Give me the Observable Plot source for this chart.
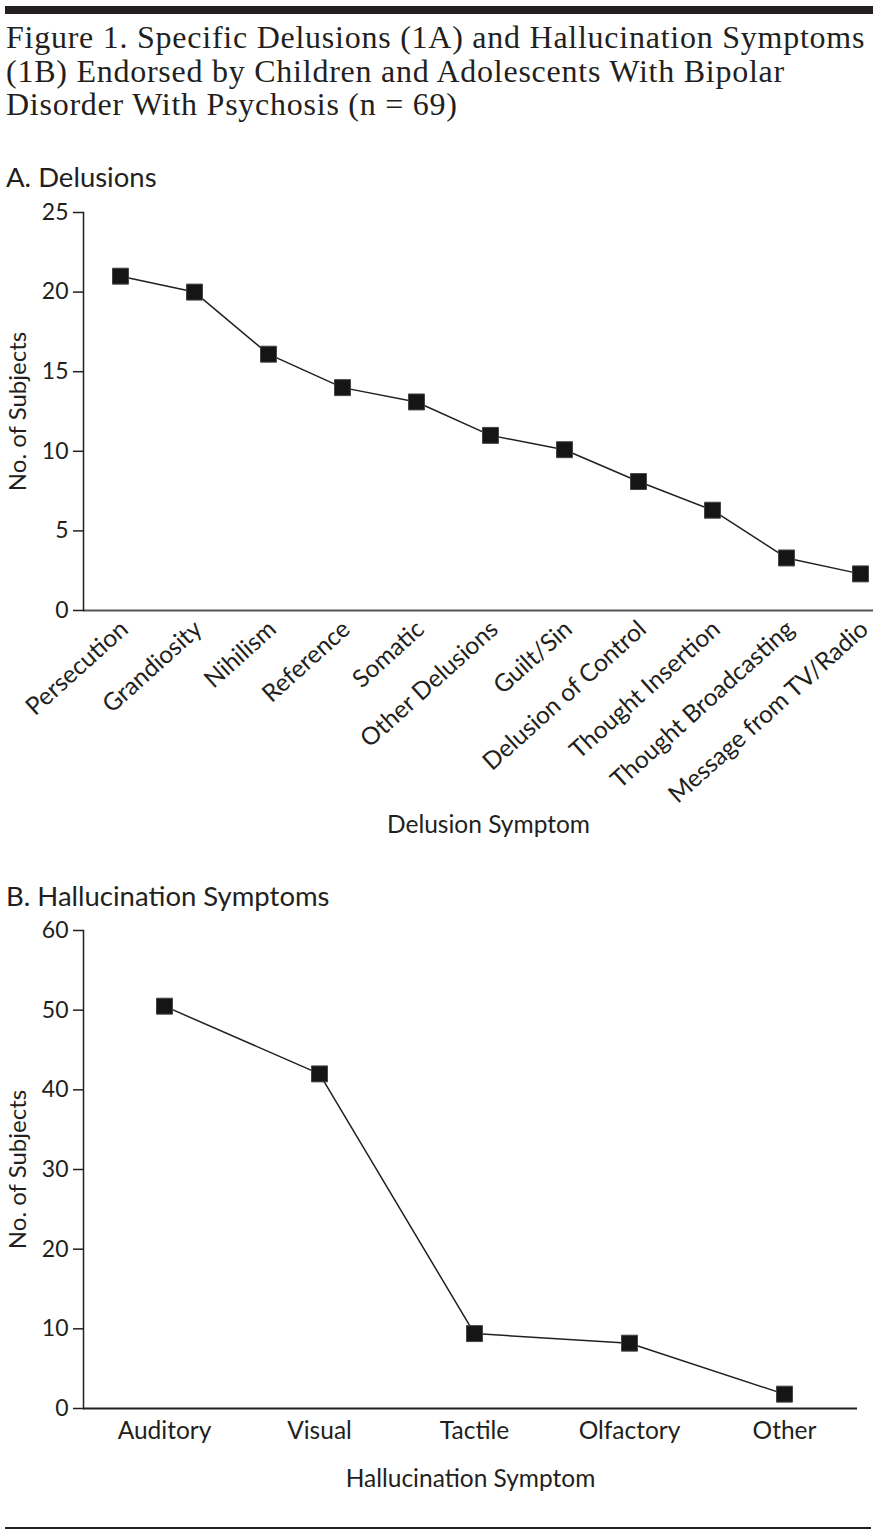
<!DOCTYPE html>
<html>
<head>
<meta charset="utf-8">
<script src="https://cdn.jsdelivr.net/npm/d3@7"></script>
<script src="https://cdn.jsdelivr.net/npm/@observablehq/plot@0.6"></script>
<style>
  html, body { margin: 0; padding: 0; background: #fff; }
  body { width: 881px; height: 1536px; position: relative; overflow: hidden; color: #231f20; }
  .abs { position: absolute; }
  #topRule { left: 5px; top: 6px; width: 868px; height: 8px; background: #231f20; }
  #bottomRule { left: 5px; top: 1527px; width: 866px; height: 2px; background: #231f20; }
  #title { left: 6px; top: 21px; font-family: "Liberation Serif", serif; font-size: 32px; letter-spacing: 0.75px; line-height: 33.5px; white-space: nowrap; }
  .panelTitle { left: 6px; font-family: Lato, sans-serif; font-size: 27.5px; white-space: nowrap; z-index: 2; }
  #chartA { left: 0; top: 188px; z-index: 1; }
  #chartB { left: 0; top: 906px; z-index: 1; }
</style>
</head>
<body>
<div id="topRule" class="abs"></div>
<div id="title" class="abs">Figure 1. Specific Delusions (1A) and Hallucination Symptoms<br>(1B) Endorsed by Children and Adolescents With Bipolar<br>Disorder With Psychosis (n = 69)</div>
<div class="abs panelTitle" style="top:160px">A. Delusions</div>
<div id="chartA" class="abs"></div>
<div class="abs panelTitle" style="top:879px">B. Hallucination Symptoms</div>
<div id="chartB" class="abs"></div>
<div id="bottomRule" class="abs"></div>
<script>
// Panel A data
const delusionSymptoms = ["Persecution", "Grandiosity", "Nihilism", "Reference", "Somatic", "Other Delusions", "Guilt/Sin", "Delusion of Control", "Thought Insertion", "Thought Broadcasting", "Message from TV/Radio"];
const delusionCounts = [21, 20, 16.1, 14, 13.1, 11, 10.1, 8.1, 6.3, 3.3, 2.3];
const delusionTicks = [0, 5, 10, 15, 20, 25];

// Panel B data
const hallucinationSymptoms = ["Auditory", "Visual", "Tactile", "Olfactory", "Other"];
const hallucinationCounts = [50.5, 42, 9.4, 8.2, 1.8];
const hallucinationTicks = [0, 10, 20, 30, 40, 50, 60];

const ink = "#231f20";
const dataA = delusionSymptoms.map((s, i) => ({symptom: s, count: delusionCounts[i]}));
const dataB = hallucinationSymptoms.map((s, i) => ({symptom: s, count: hallucinationCounts[i]}));

const chartA = Plot.plot({
  width: 881, height: 662,
  marginTop: 24, marginBottom: 240, marginLeft: 83, marginRight: 8,
  style: {fontFamily: "Lato, sans-serif", fontSize: "23px", color: ink, background: "transparent", overflow: "visible"},
  x: {type: "point", domain: delusionSymptoms, range: [119, 861], padding: 0},
  y: {domain: [0, 25]},
  marks: [
    Plot.axisY({ticks: delusionTicks, tickSize: 10, tickPadding: 5, label: null, fontSize: 23, strokeWidth: 1.5}),
    Plot.axisX({tickSize: 0, tickRotate: -42, tickPadding: 4, dx: 4, dy: 11, label: null, fontSize: 24.5}),
    Plot.ruleY([0], {stroke: "#555", strokeWidth: 2}),
    Plot.frame({anchor: "left", stroke: ink, strokeWidth: 1.5}),
    Plot.text(["No. of Subjects"], {frameAnchor: "left", textAnchor: "middle", dx: -65, rotate: -90, fontSize: 24, fill: ink}),
    Plot.text(["Delusion Symptom"], {frameAnchor: "bottom", dx: 10, dy: 222, fontSize: 24.5, fill: ink}),
    Plot.line(dataA, {x: "symptom", y: "count", stroke: ink, strokeWidth: 1.5}),
    Plot.dot(dataA, {x: "symptom", y: "count", symbol: "square", r: 9, fill: "#151515", stroke: "#444", strokeWidth: 1})
  ]
});
document.getElementById("chartA").appendChild(chartA);

const chartB = Plot.plot({
  width: 881, height: 612,
  marginTop: 24, marginBottom: 110, marginLeft: 83, marginRight: 24,
  style: {fontFamily: "Lato, sans-serif", fontSize: "23px", color: ink, background: "transparent", overflow: "visible"},
  x: {type: "point", domain: hallucinationSymptoms, range: [163, 784], padding: 0},
  y: {domain: [0, 60]},
  marks: [
    Plot.axisY({ticks: hallucinationTicks, tickSize: 10, tickPadding: 5, label: null, fontSize: 23, strokeWidth: 1.5}),
    Plot.axisX({tickSize: 0, tickPadding: 13, label: null, fontSize: 24.5}),
    Plot.ruleY([0], {stroke: ink, strokeWidth: 2}),
    Plot.frame({anchor: "left", stroke: ink, strokeWidth: 1.5}),
    Plot.text(["No. of Subjects"], {frameAnchor: "left", textAnchor: "middle", dx: -65, rotate: -90, fontSize: 24, fill: ink}),
    Plot.text(["Hallucination Symptom"], {frameAnchor: "bottom", dy: 78, fontSize: 24.5, fill: ink}),
    Plot.line(dataB, {x: "symptom", y: "count", stroke: ink, strokeWidth: 1.5}),
    Plot.dot(dataB, {x: "symptom", y: "count", symbol: "square", r: 9, fill: "#151515", stroke: "#444", strokeWidth: 1})
  ]
});
document.getElementById("chartB").appendChild(chartB);
</script>
</body>
</html>
